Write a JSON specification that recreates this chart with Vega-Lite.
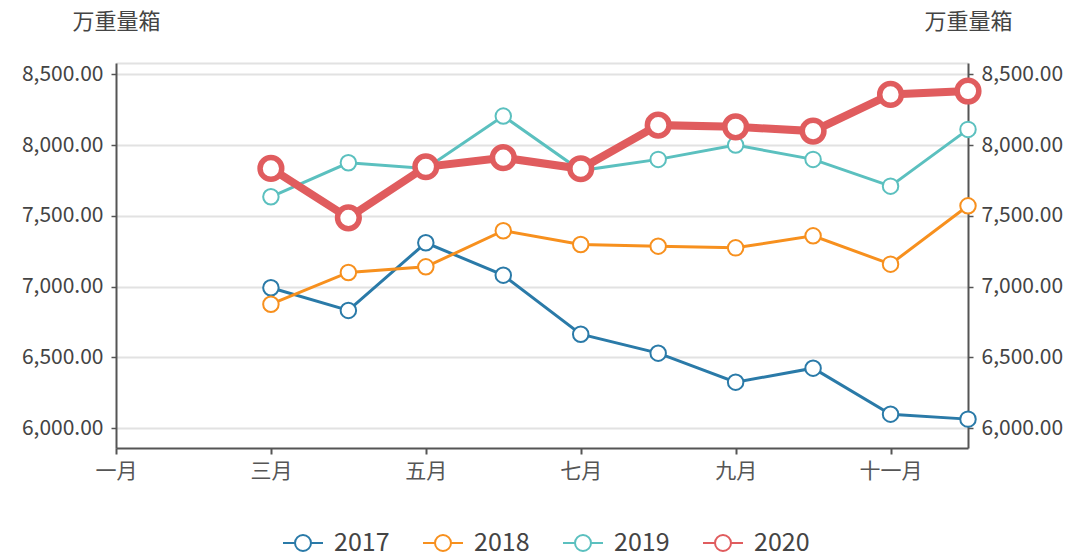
{
  "$schema": "https://vega.github.io/schema/vega-lite/v6.json",
  "autosize": "none",
  "width": 852,
  "height": 385,
  "padding": {"left": 116, "top": 63, "right": 113, "bottom": 110},
  "background": "white",
  "config": {
    "font": "Noto Sans CJK SC",
    "view": {"stroke": null},
    "axis": {"labelFont": "Noto Sans CJK SC", "titleFont": "Noto Sans CJK SC"},
    "legend": {"labelFont": "Noto Sans CJK SC"}
  },
  "data": {
    "values": [
      {"month": "三月", "series": "2017", "value": 6992},
      {"month": "四月", "series": "2017", "value": 6832},
      {"month": "五月", "series": "2017", "value": 7310},
      {"month": "六月", "series": "2017", "value": 7081},
      {"month": "七月", "series": "2017", "value": 6664},
      {"month": "八月", "series": "2017", "value": 6530},
      {"month": "九月", "series": "2017", "value": 6325},
      {"month": "十月", "series": "2017", "value": 6424},
      {"month": "十一月", "series": "2017", "value": 6099},
      {"month": "十二月", "series": "2017", "value": 6064},
      {"month": "三月", "series": "2018", "value": 6876},
      {"month": "四月", "series": "2018", "value": 7100},
      {"month": "五月", "series": "2018", "value": 7140},
      {"month": "六月", "series": "2018", "value": 7395},
      {"month": "七月", "series": "2018", "value": 7298},
      {"month": "八月", "series": "2018", "value": 7286},
      {"month": "九月", "series": "2018", "value": 7274},
      {"month": "十月", "series": "2018", "value": 7359},
      {"month": "十一月", "series": "2018", "value": 7159},
      {"month": "十二月", "series": "2018", "value": 7571},
      {"month": "三月", "series": "2019", "value": 7635},
      {"month": "四月", "series": "2019", "value": 7875},
      {"month": "五月", "series": "2019", "value": 7835},
      {"month": "六月", "series": "2019", "value": 8205},
      {"month": "七月", "series": "2019", "value": 7820},
      {"month": "八月", "series": "2019", "value": 7899},
      {"month": "九月", "series": "2019", "value": 8000},
      {"month": "十月", "series": "2019", "value": 7899},
      {"month": "十一月", "series": "2019", "value": 7710},
      {"month": "十二月", "series": "2019", "value": 8111},
      {"month": "三月", "series": "2020", "value": 7835},
      {"month": "四月", "series": "2020", "value": 7486},
      {"month": "五月", "series": "2020", "value": 7847},
      {"month": "六月", "series": "2020", "value": 7911},
      {"month": "七月", "series": "2020", "value": 7833},
      {"month": "八月", "series": "2020", "value": 8141},
      {"month": "九月", "series": "2020", "value": 8129},
      {"month": "十月", "series": "2020", "value": 8099},
      {"month": "十一月", "series": "2020", "value": 8358},
      {"month": "十二月", "series": "2020", "value": 8382}
    ]
  },
  "encoding": {
    "x": {
      "field": "month", "type": "ordinal",
      "scale": {"type": "point", "padding": 0, "domain": ["一月","二月","三月","四月","五月","六月","七月","八月","九月","十月","十一月","十二月"]}
    },
    "y": {
      "field": "value", "type": "quantitative",
      "scale": {"domain": [5860, 8580], "nice": false, "zero": false}
    },
    "color": {
      "field": "series", "type": "nominal",
      "scale": {"domain": ["2017","2018","2019","2020"], "range": ["#2a7aa8","#f7901e","#5bc0bf","#e05c5e"]},
      "legend": {
        "orient": "none", "direction": "horizontal", "legendX": 166, "legendY": 459,
        "title": null,
        "symbolType": "M-1,0H-0.4M0.4,0H1M0.4,0A0.4,0.4,0,1,1,-0.4,0A0.4,0.4,0,1,1,0.4,0",
        "symbolSize": 1600, "symbolFillColor": "white", "symbolStrokeWidth": 2,
        "labelFontSize": 25, "labelColor": "#444", "labelOffset": 10, "columnPadding": 29
      }
    }
  },
  "layer": [
    {
      "transform": [{"filter": "datum.series != '2020'"}],
      "mark": {"type": "line", "strokeWidth": 3},
      "encoding": {
        "x": {
          "field": "month", "type": "ordinal",
          "axis": {
            "orient": "bottom", "title": null, "labelAngle": 0,
            "values": ["一月","三月","五月","七月","九月","十一月"],
            "labelFontSize": 21, "labelColor": "#555", "labelPadding": 6,
            "domainColor": "#555", "domainWidth": 2, "tickColor": "#555", "tickWidth": 2, "tickSize": 6,
            "grid": false
          }
        },
        "y": {
          "field": "value", "type": "quantitative",
          "axis": {
            "orient": "left", "values": [6000, 6500, 7000, 7500, 8000, 8500], "format": ",.2f",
            "labelFontSize": 21, "labelColor": "#444", "labelPadding": 8,
            "domainColor": "#555", "domainWidth": 2, "tickColor": "#555", "tickWidth": 1.5, "tickSize": 5,
            "grid": true, "gridColor": "#e2e2e2", "gridWidth": 2,
            "title": "万重量箱", "titleAngle": 0, "titleX": 0, "titleY": -42, "titleAlign": "center", "titleBaseline": "middle",
            "titleFontSize": 22, "titleFontWeight": "normal", "titleColor": "#444"
          }
        }
      }
    },
    {
      "transform": [{"filter": "datum.series != '2020'"}],
      "mark": {"type": "point", "filled": false, "fill": "white", "fillOpacity": 1, "opacity": 1, "size": 240, "strokeWidth": 2},
      "encoding": {
        "x": {"field": "month", "type": "ordinal", "axis": null},
        "y": {
          "field": "value", "type": "quantitative",
          "axis": {
            "orient": "right", "values": [6000, 6500, 7000, 7500, 8000, 8500], "format": ",.2f",
            "labelFontSize": 21, "labelColor": "#444", "labelPadding": 8,
            "domainColor": "#555", "domainWidth": 2, "tickColor": "#555", "tickWidth": 1.5, "tickSize": 5,
            "grid": false,
            "title": "万重量箱", "titleAngle": 0, "titleX": 0, "titleY": -42, "titleAlign": "center", "titleBaseline": "middle",
            "titleFontSize": 22, "titleFontWeight": "normal", "titleColor": "#444"
          }
        }
      }
    },
    {
      "transform": [{"filter": "datum.series == '2020'"}],
      "mark": {"type": "line", "strokeWidth": 8},
      "encoding": {
        "x": {
          "field": "month", "type": "ordinal",
          "axis": {"orient": "top", "title": null, "labels": false, "ticks": false, "domainColor": "#e2e2e2", "domainWidth": 2, "grid": false}
        },
        "y": {"field": "value", "type": "quantitative", "axis": null}
      }
    },
    {
      "transform": [{"filter": "datum.series == '2020'"}],
      "mark": {"type": "point", "filled": false, "fill": "white", "fillOpacity": 1, "opacity": 1, "size": 470, "strokeWidth": 5.5},
      "encoding": {
        "x": {"field": "month", "type": "ordinal", "axis": null},
        "y": {"field": "value", "type": "quantitative", "axis": null}
      }
    }
  ]
}
